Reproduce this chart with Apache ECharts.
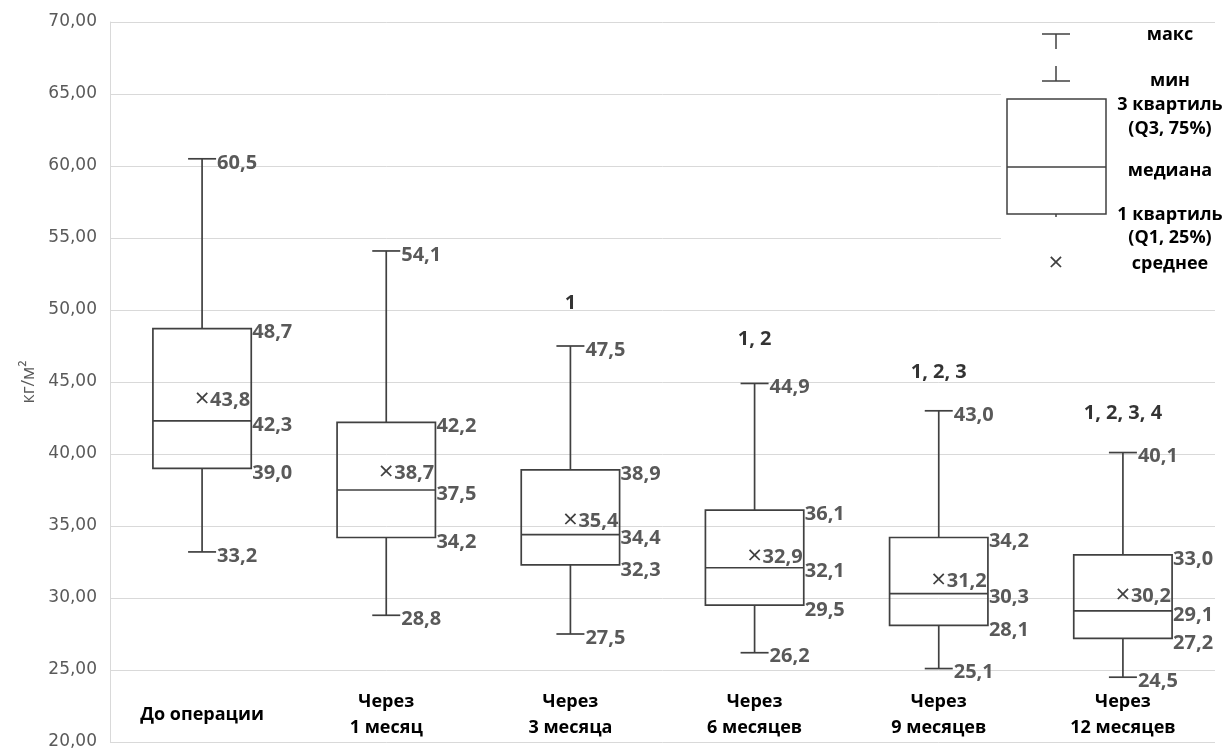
<!DOCTYPE html>
<html>
<head>
<meta charset="utf-8">
<script src="https://cdn.jsdelivr.net/npm/echarts@6/dist/echarts.min.js"></script>
<style>html,body{margin:0;padding:0;background:#fff}#chart-container{width:1228px;height:751px}</style>
</head>
<body>
<div id="chart-container"></div>
<script>
const categories = ['До операции', 'Через\n1 месяц', 'Через\n3 месяца', 'Через\n6 месяцев', 'Через\n9 месяцев', 'Через\n12 месяцев'];
const minValues = [33.2, 28.8, 27.5, 26.2, 25.1, 24.5];
const q1Values = [39.0, 34.2, 32.3, 29.5, 28.1, 27.2];
const medianValues = [42.3, 37.5, 34.4, 32.1, 30.3, 29.1];
const q3Values = [48.7, 42.2, 38.9, 36.1, 34.2, 33.0];
const maxValues = [60.5, 54.1, 47.5, 44.9, 43.0, 40.1];
const meanValues = [43.8, 38.7, 35.4, 32.9, 31.2, 30.2];
const sigLabels = ['', '', '1', '1, 2', '1, 2, 3', '1, 2, 3, 4'];
const sigLevels = [null, null, 50.5, 48.0, 45.7, 42.8];

const chartContainer = document.getElementById('chart-container');
const myChart = echarts.init(chartContainer);

const fmt = v => v.toFixed(1).replace('.', ',');
const lineColor = '#404040';
const labelColor = '#595959';
const labelFont = 'Open Sans';

const boxData = categories.map((c, i) => [i, minValues[i], q1Values[i], medianValues[i], q3Values[i], maxValues[i], meanValues[i]]);

function valueText(str, x, y) {
    return {
        type: 'text',
        style: {
            text: str, x: x, y: y, fill: labelColor,
            fontSize: 20, fontWeight: 'bold', fontFamily: labelFont,
            align: 'left', verticalAlign: 'middle'
        }
    };
}

function renderBox(params, api) {
    const i = api.value(0);
    const x = api.coord([i, 0])[0];
    const yMin = api.coord([i, api.value(1)])[1];
    const yQ1 = api.coord([i, api.value(2)])[1];
    const yMed = api.coord([i, api.value(3)])[1];
    const yQ3 = api.coord([i, api.value(4)])[1];
    const yMax = api.coord([i, api.value(5)])[1];
    const yMean = api.coord([i, api.value(6)])[1];
    const band = api.size([1, 0])[0];
    const half = band * 0.267;
    const cap = 14;
    const st = { stroke: lineColor, lineWidth: 1.7, fill: null };
    const seg = (x1, y1, x2, y2) => ({ type: 'line', shape: { x1, y1, x2, y2 }, style: st });
    return {
        type: 'group',
        children: [
            { type: 'rect', shape: { x: x - half, y: yQ3, width: half * 2, height: yQ1 - yQ3 }, style: st },
            seg(x - half, yMed, x + half, yMed),
            seg(x, yMax, x, yQ3),
            seg(x, yQ1, x, yMin),
            seg(x - cap, yMax, x + cap, yMax),
            seg(x - cap, yMin, x + cap, yMin),
            valueText(fmt(api.value(5)), x + cap + 1, yMax + 4),
            valueText(fmt(api.value(1)), x + cap + 1, yMin + 4),
            valueText(fmt(api.value(4)), x + half + 1, yQ3 + 4),
            valueText(fmt(api.value(3)), x + half + 1, yMed + 4),
            valueText(fmt(api.value(2)), x + half + 1, yQ1 + 5),
            {
                type: 'text',
                style: {
                    text: '×', x: x, y: yMean, fill: lineColor, fontSize: 26,
                    fontFamily: labelFont, align: 'center', verticalAlign: 'middle'
                }
            },
            valueText(fmt(api.value(6)), x + 8, yMean + 1)
        ]
    };
}

const legendX = 1056;
const legendTextX = 1170;
const legendText = (str, y) => ({
    type: 'text', z: 101,
    style: {
        text: str, x: legendTextX, y: y, fill: '#000', fontSize: 18, fontWeight: 'bold',
        fontFamily: labelFont, align: 'center', verticalAlign: 'middle'
    }
});
const legendLine = (x1, y1, x2, y2) => ({
    type: 'line', z: 101, shape: { x1, y1, x2, y2 }, style: { stroke: lineColor, lineWidth: 1.5 }
});

const options = {
    backgroundColor: '#fff',
    animation: false,
    grid: { left: 110, right: 13, top: 22, bottom: 9 },
    xAxis: {
        type: 'category',
        data: categories,
        axisLine: { show: false },
        axisTick: { show: false },
        axisLabel: {
            inside: true,
            margin: 27,
            verticalAlign: 'middle',
            color: '#000',
            fontSize: 18,
            fontWeight: 'bold',
            fontFamily: labelFont,
            lineHeight: 26
        }
    },
    yAxis: {
        type: 'value',
        min: 20,
        max: 70,
        interval: 5,
        name: 'кг/м²',
        nameLocation: 'middle',
        nameGap: 70,
        nameTextStyle: { color: labelColor, fontSize: 18, fontFamily: labelFont },
        axisLine: { show: true, lineStyle: { color: '#d9d9d9' } },
        axisTick: { show: false },
        splitLine: { lineStyle: { color: '#d9d9d9' } },
        axisLabel: {
            margin: 13,
            color: labelColor,
            fontSize: 17,
            fontFamily: 'DejaVu Sans',
            formatter: v => v.toFixed(2).replace('.', ',')
        }
    },
    series: [{
        type: 'custom',
        renderItem: renderBox,
        encode: { x: 0, y: [1, 2, 3, 4, 5, 6] },
        data: boxData
    }, {
        type: 'scatter',
        symbolSize: 0,
        data: sigLevels.map((v, i) => v === null ? null : [i, v, sigLabels[i]]).filter(d => d),
        label: {
            show: true,
            position: 'inside',
            formatter: p => p.value[2],
            color: '#000',
            fontSize: 20,
            fontWeight: 'bold',
            fontFamily: labelFont
        }
    }],
    graphic: [
        { type: 'rect', z: 100, shape: { x: 1001, y: 28, width: 227, height: 272 }, style: { fill: '#fff' } },
        legendLine(legendX - 14, 34, legendX + 14, 34),
        legendLine(legendX, 34, legendX, 49),
        legendLine(legendX, 66, legendX, 81),
        legendLine(legendX - 14, 81, legendX + 14, 81),
        { type: 'rect', z: 101, shape: { x: 1007, y: 99, width: 99, height: 115 }, style: { fill: null, stroke: lineColor, lineWidth: 1.5 } },
        legendLine(1007, 167, 1106, 167),
        legendLine(legendX, 214, legendX, 217),
        {
            type: 'text', z: 101,
            style: { text: '×', x: legendX, y: 264, fill: lineColor, fontSize: 26, fontFamily: labelFont, align: 'center', verticalAlign: 'middle' }
        },
        legendText('макс', 35),
        legendText('мин', 81),
        legendText('3 квартиль', 105),
        legendText('(Q3, 75%)', 129),
        legendText('медиана', 171),
        legendText('1 квартиль', 215),
        legendText('(Q1, 25%)', 238),
        legendText('среднее', 264)
    ]
};

myChart.setOption(options);

window.addEventListener('resize', function () {
    myChart.resize();
});
</script>
</body>
</html>
